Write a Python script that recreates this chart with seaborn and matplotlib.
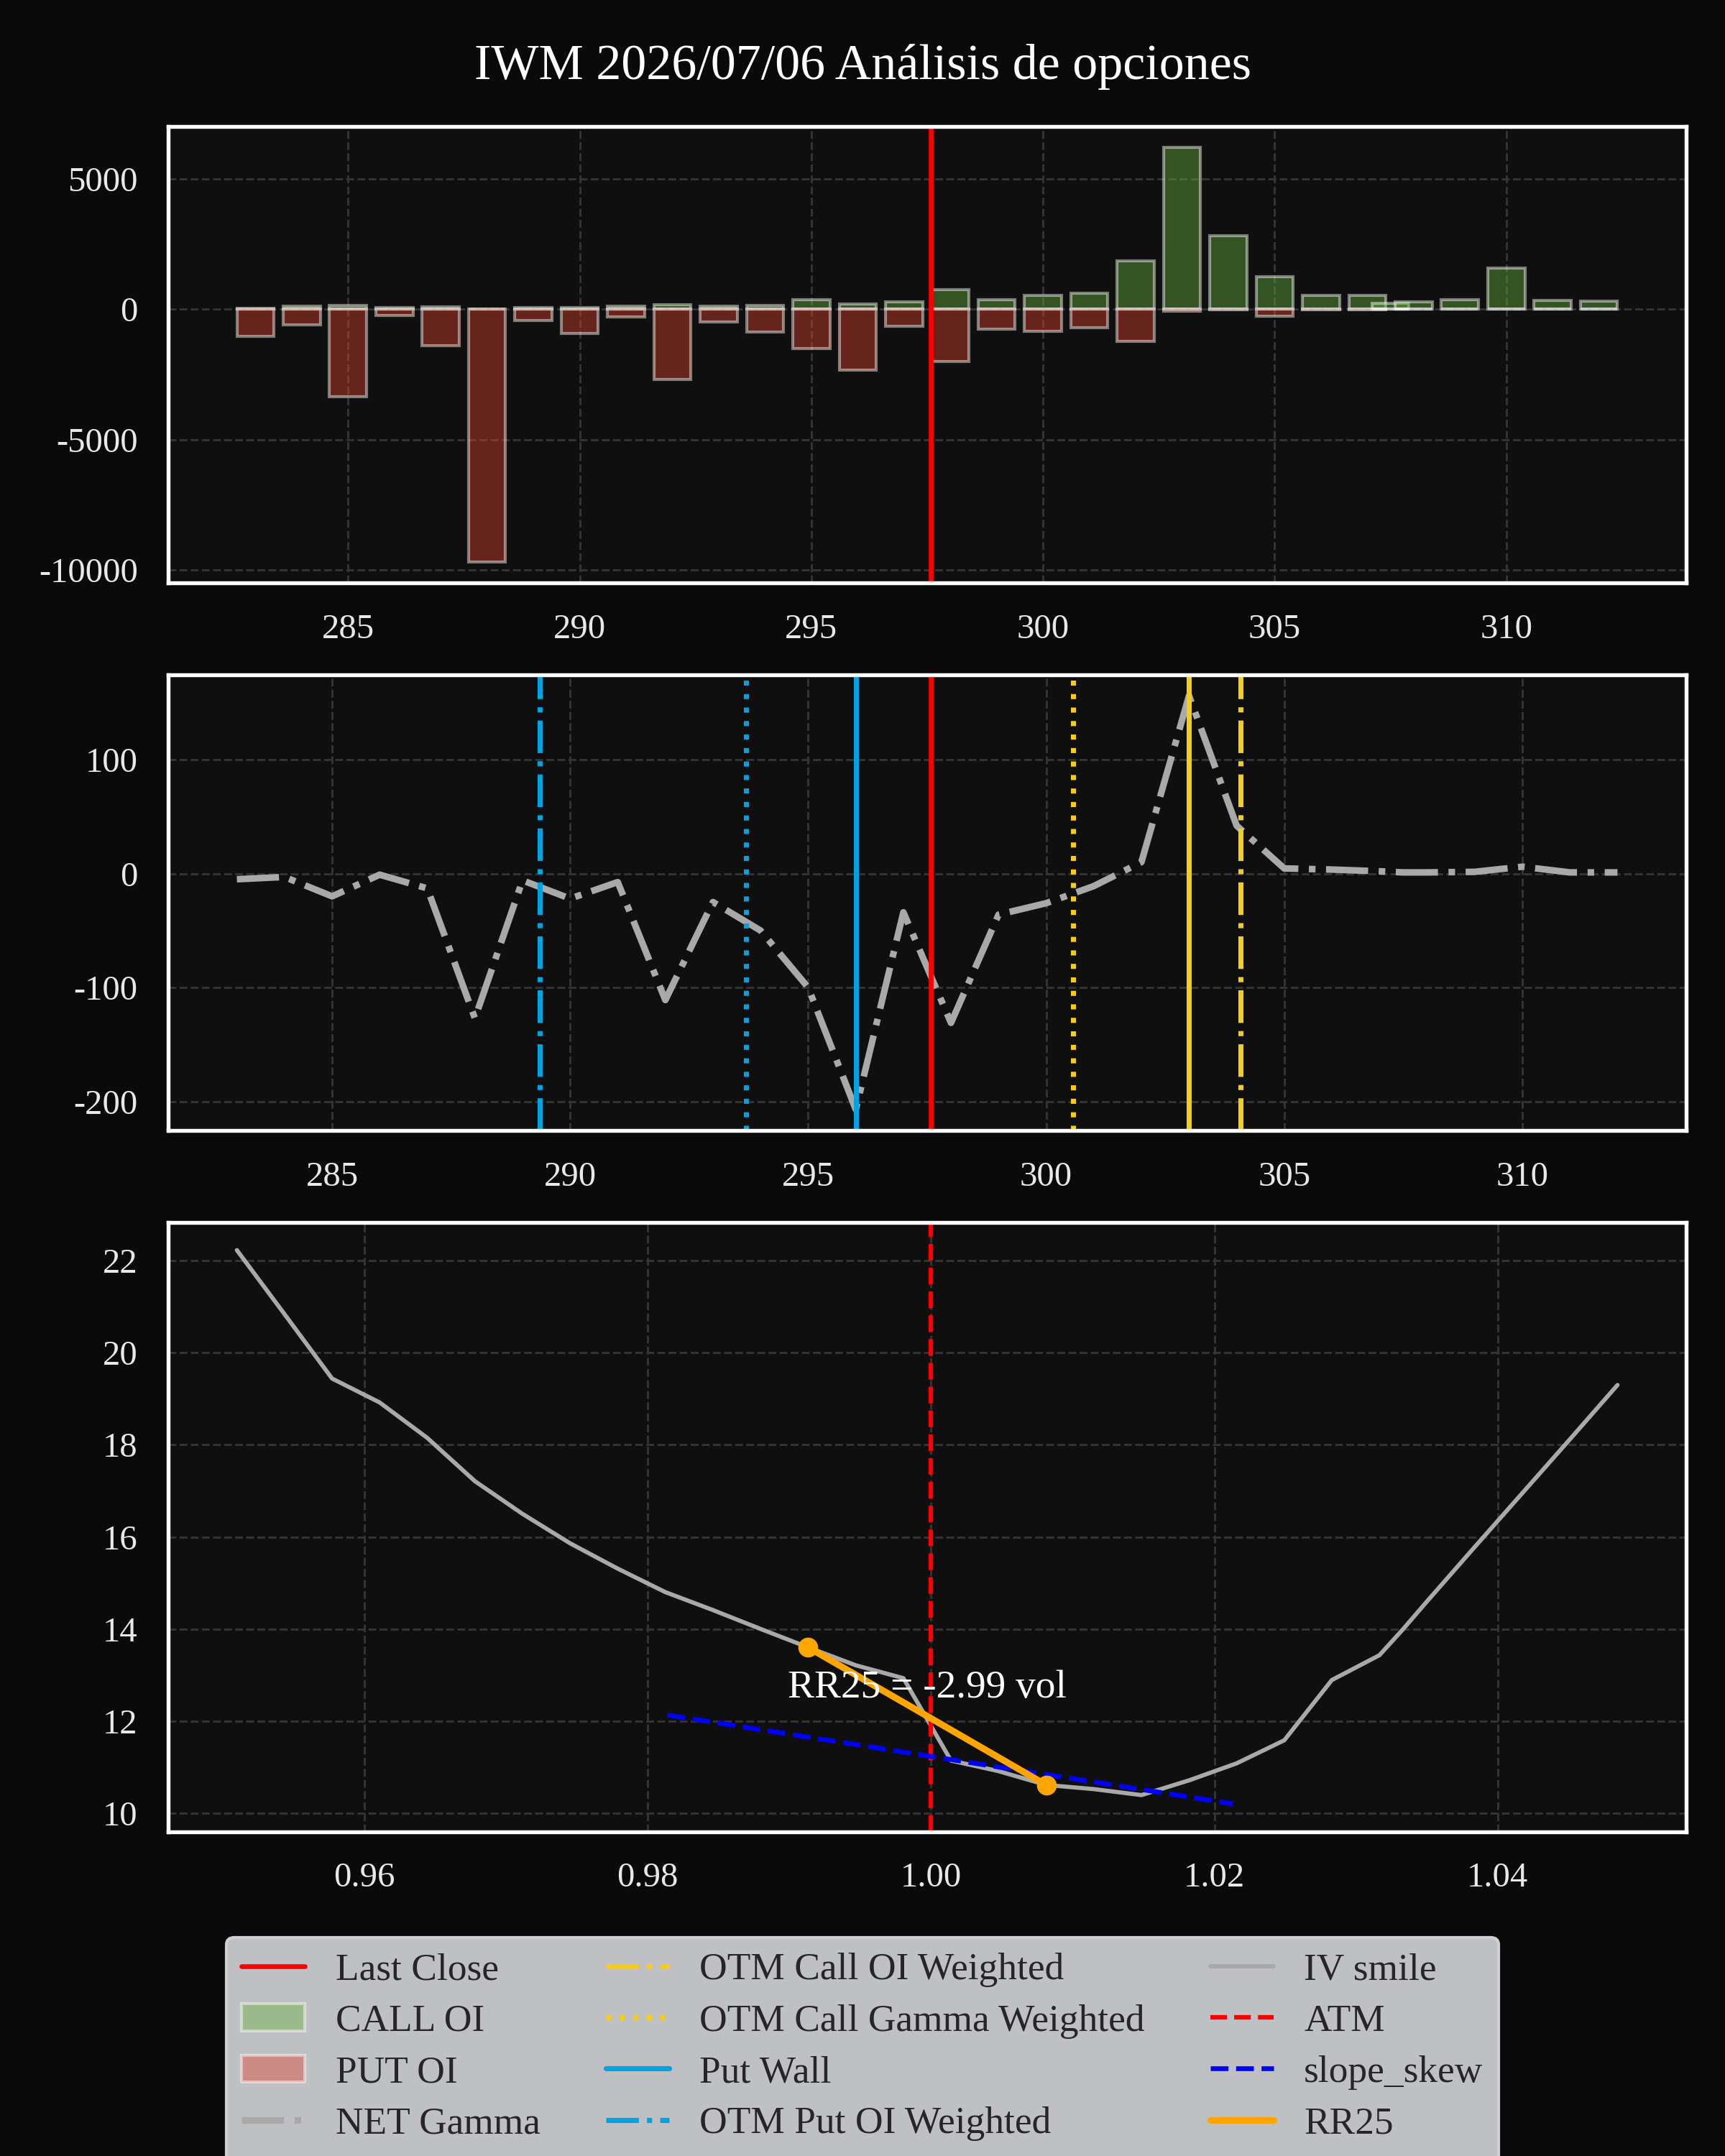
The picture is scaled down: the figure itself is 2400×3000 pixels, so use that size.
import matplotlib
matplotlib.use("Agg")
import matplotlib.pyplot as plt
from matplotlib.lines import Line2D
import seaborn as sns
import numpy as np

# ---------------- data ----------------
title = "IWM 2026/07/06 Análisis de opciones"
strikes = [283, 284, 285, 286, 287, 288, 289, 290, 291, 292, 293, 294, 295, 296, 297,
           298, 299, 300, 301, 302, 303, 304, 305, 306, 307, 307.5, 308, 309, 310, 311, 312]
call_oi = [30, 100, 150, 50, 90, 10, 50, 50, 120, 170, 110, 150, 350, 200, 280,
           750, 370, 530, 610, 1850, 6200, 2800, 1250, 530, 530, 230, 270, 370, 1580, 330, 310]
put_oi = [-1050, -600, -3350, -250, -1400, -9700, -450, -930, -300, -2700, -500, -870, -1500, -2330, -650,
          -2000, -760, -850, -700, -1250, -80, -30, -260, -20, -30, -10, -10, -10, -10, -10, -10]
net_gamma = [-5, -3, -20, -1, -13, -127, -6, -22, -7.5, -111, -25, -50, -100, -207, -34,
             -131, -36, -26, -11, 10, 156, 42, 4.5, 3.5, 2, 1, 1, 1.5, 6, 1, 1]
iv_smile = [22.23, 20.84, 19.44, 18.92, 18.15, 17.21, 16.50, 15.86, 15.31, 14.80, 14.41, 14.00, 13.60, 13.21, 12.93,
            11.14, 10.91, 10.61, 10.52, 10.39, 10.71, 11.08, 11.58, 12.89, 13.43, 14.00, 14.60, 15.78, 16.95, 18.12, 19.30]

last_close = 297.58
call_wall = 303.0
put_wall = 296.0
otm_call_oi_weighted = 304.08
otm_call_gamma_weighted = 300.56
otm_put_oi_weighted = 289.37
otm_put_gamma_weighted = 293.69

rr25_strikes = [295.0, 300.0]
rr25_iv = [13.60, 10.61]
rr25_value = -2.99
slope_skew_m = [0.9814, 1.0213]
slope_skew_iv = [12.13, 10.20]

legend_labels = ["Last Close", "CALL OI", "PUT OI", "NET Gamma",
                 "OTM Call OI Weighted", "OTM Call Gamma Weighted", "Put Wall", "OTM Put OI Weighted",
                 "IV smile", "ATM", "slope_skew", "RR25"]

# ---------------- style ----------------
sns.set_theme(style="dark")
BG_FIG = "#0a0a0a"
BG_AX = "#0f0f0f"
plt.rcParams.update({
    "figure.facecolor": BG_FIG,
    "axes.facecolor": BG_AX,
    "axes.edgecolor": "white",
    "axes.linewidth": 1.3,
    "axes.grid": True,
    "axes.axisbelow": True,
    "grid.color": "#343434",
    "grid.linestyle": "--",
    "grid.linewidth": 0.7,
    "xtick.color": "#e8e8e8",
    "ytick.color": "#e8e8e8",
    "xtick.labelcolor": "#e8e8e8",
    "ytick.labelcolor": "#e8e8e8",
    "xtick.major.size": 0,
    "ytick.major.size": 0,
    "xtick.major.pad": 10.3,
    "ytick.major.pad": 10,
    "xtick.labelsize": 11.7,
    "ytick.labelsize": 11.7,
    "axes.unicode_minus": False,
})
plt.rcParams["font.family"] = ["Liberation Serif", "DejaVu Serif"]

CALL_C = (0.416, 0.706, 0.251, 0.42)
PUT_C = (0.882, 0.263, 0.184, 0.42)
EDGE_C = (1, 1, 1, 0.46)
BLUE = "#00a3e0"
YELLOW = "#f4cc1c"

fig = plt.figure(figsize=(8, 10), dpi=300)
ax1 = fig.add_axes([0.0973, 0.7296, 0.8804, 0.2117])
ax2 = fig.add_axes([0.0973, 0.4758, 0.8804, 0.2111])
ax3 = fig.add_axes([0.0973, 0.1505, 0.8804, 0.2825])

for ax in (ax1, ax2, ax3):
    ax.set_facecolor(BG_AX)
    for s in ax.spines.values():
        s.set_color("white")
        s.set_linewidth(1.3)
    ax.grid(True, color="#343434", linestyle="--", linewidth=0.7)

# ---- panel 1: OI bars ----
ax1.bar(strikes, call_oi, width=0.8, color=CALL_C, edgecolor=EDGE_C, linewidth=1.0, label="CALL OI")
ax1.bar(strikes, put_oi, width=0.8, color=PUT_C, edgecolor=EDGE_C, linewidth=1.0, label="PUT OI")
ax1.axvline(last_close, color="red", linewidth=1.6, label="Last Close")

# ---- panel 2: net gamma ----
sns.lineplot(x=strikes, y=net_gamma, ax=ax2, color="darkgray", linestyle="-.",
             linewidth=2.2, label="NET Gamma", legend=False)
ax2.axvline(last_close, color="red", linewidth=1.6)
ax2.axvline(call_wall, color=YELLOW, linewidth=1.7, linestyle="-")
ax2.axvline(otm_call_oi_weighted, color=YELLOW, linewidth=1.7, linestyle="-.", label="OTM Call OI Weighted")
ax2.axvline(otm_call_gamma_weighted, color=YELLOW, linewidth=1.7, linestyle=":", label="OTM Call Gamma Weighted")
ax2.axvline(put_wall, color=BLUE, linewidth=1.7, linestyle="-", label="Put Wall")
ax2.axvline(otm_put_oi_weighted, color=BLUE, linewidth=1.7, linestyle="-.", label="OTM Put OI Weighted")
ax2.axvline(otm_put_gamma_weighted, color=BLUE, linewidth=1.7, linestyle=":")

# ---- panel 3: IV smile ----
moneyness = np.array(strikes) / last_close
rr25_m = np.array(rr25_strikes) / last_close
sns.lineplot(x=moneyness, y=iv_smile, ax=ax3, color="darkgray", linewidth=1.4,
             label="IV smile", legend=False)
ax3.axvline(1.0, color="red", linestyle="--", linewidth=1.5, label="ATM")
sns.lineplot(x=slope_skew_m, y=slope_skew_iv, ax=ax3, color="blue", linestyle="--",
             linewidth=1.6, label="slope_skew", legend=False)
sns.lineplot(x=rr25_m, y=rr25_iv, ax=ax3, color="orange", linewidth=2.2,
             label="RR25", legend=False)
sns.scatterplot(x=rr25_m, y=rr25_iv, ax=ax3, color="orange", s=44, linewidth=0,
                zorder=5, legend=False)
ax3.text(float(np.mean(rr25_m)), float(np.mean(rr25_iv)) + 0.62, f"RR25 = {rr25_value:.2f} vol",
         color="white", fontsize=13.3, ha="center", va="center")

for ax in (ax1, ax2, ax3):
    ax.set_xlabel("")
    ax.set_ylabel("")
    lg = ax.get_legend()
    if lg is not None:
        lg.remove()

# ---- title ----
fig.suptitle(title, color="white", fontsize=16.8, y=0.969, va="center")

# ---- legend (3 columns, box runs past the bottom edge like the original) ----
hmap = {}
for ax in (ax1, ax2, ax3):
    hs, ls = ax.get_legend_handles_labels()
    for h, l in zip(hs, ls):
        if l not in hmap:
            hmap[l] = h
blank = Line2D([], [], color="none")
handles, labels = [], []
for c in range(3):
    for l in legend_labels[c * 4:(c + 1) * 4]:
        handles.append(hmap[l])
        labels.append(l)
    handles.append(blank)
    labels.append(" ")
leg = fig.legend(handles, labels, loc="upper center", bbox_to_anchor=(0.5, 0.1014), ncol=3,
                 fontsize=12.8, facecolor="#bfc0c4", edgecolor="#d0d0d4", framealpha=1.0,
                 labelcolor="#262626", borderaxespad=0.0, handlelength=1.65,
                 columnspacing=1.7, labelspacing=0.43)

fig.savefig("out.png", dpi=300, facecolor=BG_FIG)
